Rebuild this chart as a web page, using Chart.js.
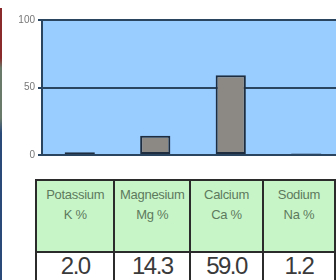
<!DOCTYPE html>
<html>
<head>
<meta charset="utf-8">
<script src="https://cdn.jsdelivr.net/npm/chart.js@4.4.1/dist/chart.umd.min.js"></script>
<style>
  html, body { margin: 0; padding: 0; background: #fff; width: 336px; height: 280px; overflow: hidden; }
  #wrap { position: absolute; left: 0; top: 0; width: 350px; height: 164px; }
  #edge { position: absolute; left: 0; top: 8px; width: 2px; height: 272px;
    background: linear-gradient(#8a2a2a 0, #8a2a2a 50px, #6a7a6a 60px, #6a7a6a 110px, #2a4a7a 125px, #2a4a7a 100%); }
  #tabla { position: absolute; left: 35px; top: 179px; border-collapse: collapse; table-layout: fixed;
    font-family: Arial, "Liberation Sans", sans-serif; }
  #tabla td { border: 2px solid #2b2b2b; text-align: center; padding: 0; }
  #tabla tr.cab td { background: #c8f5c8; color: #5d7a5d; font-size: 13px; height: 66px;
    vertical-align: top; line-height: 20px; padding-top: 4px; letter-spacing: -0.3px; }
  #tabla tr.val td { color: #3a3a3a; font-size: 24px; letter-spacing: -1.5px; height: 40px;
    vertical-align: top; line-height: 25px; }
</style>
</head>
<body>
<div id="edge"></div>
<div id="wrap"><canvas id="grafica"></canvas></div>
<table id="tabla"></table>
<script>
// datos
const nutrientes = ["Potassium", "Magnesium", "Calcium", "Sodium"];
const simbolos = ["K %", "Mg %", "Ca %", "Na %"];
const porcentajes = [2.0, 14.3, 59.0, 1.2];
const ticksY = [0, 50, 100];
const anchos = [81, 76, 77, 77]; // ancho de columnas de la tabla

// fondo azul del area de la grafica
const fondoAzul = {
  id: "fondoAzul",
  beforeDraw(chart) {
    const a = chart.chartArea;
    const ctx = chart.ctx;
    ctx.save();
    ctx.fillStyle = "#99ccff";
    ctx.fillRect(a.left, a.top, a.right - a.left, a.bottom - a.top);
    ctx.restore();
  }
};

const lienzo = document.getElementById("grafica");
lienzo.width = 350;
lienzo.height = 164;

new Chart(lienzo, {
  type: "bar",
  data: {
    labels: nutrientes,
    datasets: [{
      data: porcentajes,
      backgroundColor: "#8c8884",
      borderColor: "#1e2e40",
      borderWidth: 2,
      borderSkipped: false,
      barPercentage: 0.4,
      categoryPercentage: 1.0
    }]
  },
  options: {
    responsive: false,
    animation: false,
    layout: { padding: { top: 20, bottom: 2, left: 0, right: 6 } },
    plugins: { legend: { display: false }, tooltip: { enabled: false } },
    scales: {
      x: {
        ticks: { display: false },
        grid: { display: false, drawTicks: false },
        border: { display: true, color: "#2a4560", width: 2 },
        afterFit(s) { s.height = 0; }
      },
      y: {
        min: 0,
        max: 100,
        afterBuildTicks(s) { s.ticks = ticksY.map((v) => ({ value: v })); },
        ticks: { color: "#777", font: { family: "Arial", size: 10 }, padding: 3 },
        grid: { color: "#2a4560", lineWidth: 2, tickLength: 4 },
        border: { color: "#2a4560", width: 2 },
        afterFit(s) { s.width = 42; }
      }
    }
  },
  plugins: [fondoAzul]
});

// tabla de valores construida con los arrays
const tabla = document.getElementById("tabla");
const filaCab = document.createElement("tr");
filaCab.className = "cab";
const filaVal = document.createElement("tr");
filaVal.className = "val";
nutrientes.forEach((n, i) => {
  const c = document.createElement("td");
  c.style.width = anchos[i] + "px";
  c.innerHTML = n + "<br>" + simbolos[i];
  filaCab.appendChild(c);
  const v = document.createElement("td");
  v.textContent = porcentajes[i].toFixed(1);
  filaVal.appendChild(v);
});
tabla.appendChild(filaCab);
tabla.appendChild(filaVal);
</script>
</body>
</html>
